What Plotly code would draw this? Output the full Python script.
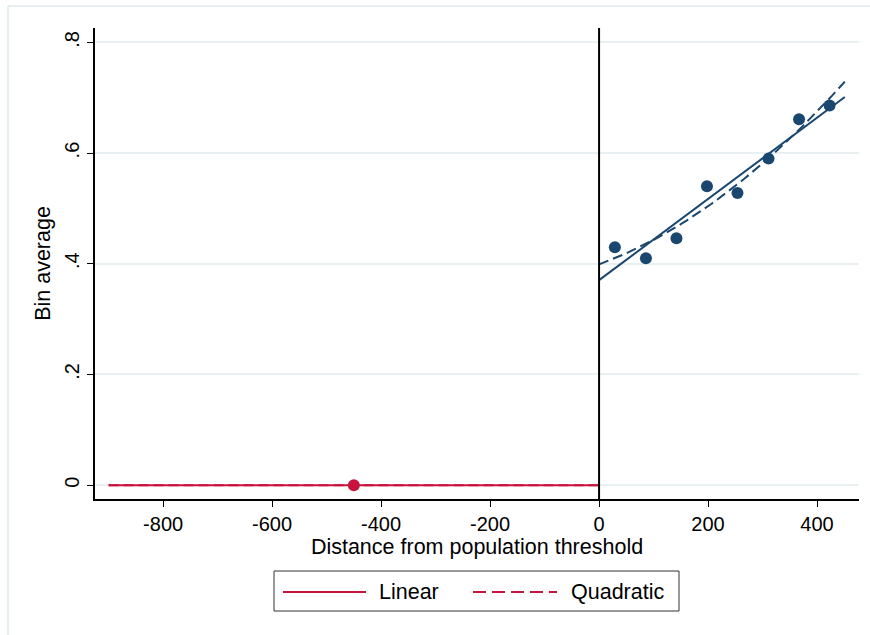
import numpy as np
import plotly.graph_objects as go

# ---- data ----
left_bin_x = [-450]
left_bin_y = [0.0]
left_fit_x = [-900, 0]
left_lin_y = [0.0, 0.0]
left_quad_y = [0.0, 0.0]

right_bin_x = [29, 86, 142, 198, 254, 311, 367, 423]
right_bin_y = [0.430, 0.410, 0.446, 0.540, 0.528, 0.590, 0.661, 0.686]
right_fit_end = 451

y_tick_vals = [0, 0.2, 0.4, 0.6, 0.8]
y_tick_text = ["0", ".2", ".4", ".6", ".8"]
x_tick_vals = [-800, -600, -400, -200, 0, 200, 400]
x_tick_text = ["-800", "-600", "-400", "-200", "0", "200", "400"]

legend_labels = ["Linear", "Quadratic"]

# fits on the right side (linear and quadratic, fit to the bins)
xs = np.linspace(0, right_fit_end, 60)
lin_c = np.polyfit(right_bin_x, right_bin_y, 1)
quad_c = np.polyfit(right_bin_x, right_bin_y, 2)
right_lin_y = np.polyval(lin_c, xs)
right_quad_y = np.polyval(quad_c, xs)

RED = "#c8143c"
NAVY = "#1a476f"
GRID = "#e8f0f2"
FONT = "Liberation Sans, Arial, Helvetica, sans-serif"
DASH = "10px,5px"

fig = go.Figure()
fig.add_trace(go.Scatter(x=left_fit_x, y=left_lin_y, mode="lines",
                         line=dict(color=RED, width=2), showlegend=False))
fig.add_trace(go.Scatter(x=left_fit_x, y=left_quad_y, mode="lines",
                         line=dict(color=RED, width=2, dash=DASH), showlegend=False))
fig.add_trace(go.Scatter(x=xs, y=right_lin_y, mode="lines",
                         line=dict(color=NAVY, width=2), showlegend=False))
fig.add_trace(go.Scatter(x=xs, y=right_quad_y, mode="lines",
                         line=dict(color=NAVY, width=2, dash=DASH), showlegend=False))
fig.add_trace(go.Scatter(x=left_bin_x, y=left_bin_y, mode="markers",
                         marker=dict(color=RED, size=12), showlegend=False))
fig.add_trace(go.Scatter(x=right_bin_x, y=right_bin_y, mode="markers",
                         marker=dict(color=NAVY, size=12), showlegend=False))

# plot area geometry (pixels)
L, R, T, B = 95, 859, 28, 499
W, H = 870, 635
def px(x):
    return (x - L) / (R - L)
def py(y):
    return (B - y) / (B - T)

shapes = [
    # vertical threshold line
    dict(type="line", xref="x", yref="paper", x0=0, x1=0, y0=0, y1=1,
         line=dict(color="black", width=2)),
    # outer graph-region frame (top and left edges visible)
    dict(type="line", xref="paper", yref="paper", x0=px(8), x1=px(872), y0=py(6), y1=py(6),
         line=dict(color="#e6eef2", width=2)),
    dict(type="line", xref="paper", yref="paper", x0=px(8), x1=px(8), y0=py(6), y1=py(640),
         line=dict(color="#e6eef2", width=2)),
    # legend box
    dict(type="rect", xref="paper", yref="paper", x0=px(274), x1=px(679), y0=py(571), y1=py(611),
         line=dict(color="#333333", width=1), fillcolor="white"),
    # legend samples
    dict(type="line", xref="paper", yref="paper", x0=px(283), x1=px(366), y0=py(592), y1=py(592),
         line=dict(color=RED, width=2)),
    dict(type="line", xref="paper", yref="paper", x0=px(473), x1=px(557), y0=py(592), y1=py(592),
         line=dict(color=RED, width=2, dash="13px,6px")),
]

annotations = [
    dict(xref="paper", yref="paper", x=px(377), y=py(592), text=legend_labels[0],
         showarrow=False, xanchor="left", yanchor="middle",
         font=dict(family=FONT, size=21.5, color="black")),
    dict(xref="paper", yref="paper", x=px(569), y=py(592), text=legend_labels[1],
         showarrow=False, xanchor="left", yanchor="middle",
         font=dict(family=FONT, size=21.5, color="black")),
]

fig.update_layout(
    width=W, height=H,
    margin=dict(l=L, r=W - R, t=T, b=H - B),
    paper_bgcolor="white", plot_bgcolor="white",
    font=dict(family=FONT, size=20, color="black"),
    shapes=shapes, annotations=annotations,
    showlegend=False,
)
fig.update_xaxes(
    range=[-925, 477], tickvals=x_tick_vals, ticktext=x_tick_text,
    showgrid=False, zeroline=False,
    showline=True, linecolor="black", linewidth=1.5,
    ticks="outside", ticklen=6, tickcolor="black",
    tickfont=dict(size=20),
    title=dict(text="Distance from population threshold", font=dict(size=21.5), standoff=2),
)
fig.update_yaxes(
    range=[-0.025, 0.826], tickvals=y_tick_vals, ticktext=y_tick_text,
    showgrid=True, gridcolor=GRID, gridwidth=1.5, zeroline=False,
    showline=True, linecolor="black", linewidth=1.5,
    ticks="outside", ticklen=6, tickcolor="black",
    tickangle=-90, tickfont=dict(size=20),
    title=dict(text="Bin average", font=dict(size=21.5), standoff=5),
)

fig.write_html("out.html")
